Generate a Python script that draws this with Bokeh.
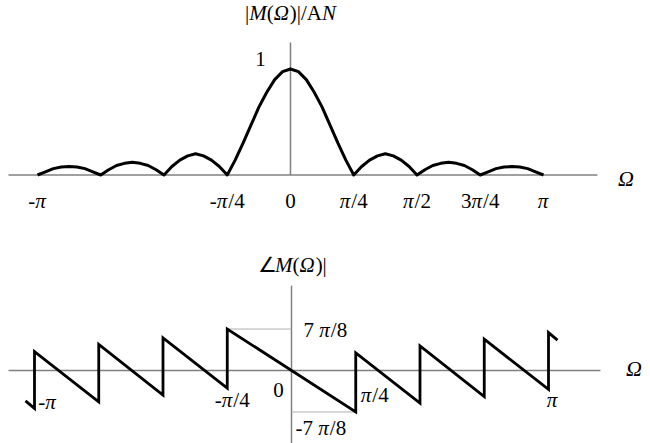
import numpy as np
from bokeh.plotting import figure
from bokeh.layouts import column
from bokeh.models import Range1d, ColumnDataSource
from bokeh.core.properties import value
from bokeh.embed import file_html
from bokeh.resources import INLINE

# ---------------- data (Ω and phase in units of π) ----------------
mag_omega = [k / 32 for k in range(-32, 33)]
mag_values = [0.0, 0.03, 0.06, 0.075, 0.08, 0.075, 0.06, 0.03,
              0.0, 0.05, 0.09, 0.11, 0.12, 0.11, 0.09, 0.05,
              0.0, 0.08, 0.14, 0.18, 0.20, 0.18, 0.14, 0.08,
              0.0, 0.14, 0.30, 0.47, 0.64, 0.78, 0.90, 0.975,
              1.0,
              0.975, 0.90, 0.78, 0.64, 0.47, 0.30, 0.14, 0.0,
              0.08, 0.14, 0.18, 0.20, 0.18, 0.14, 0.08, 0.0,
              0.05, 0.09, 0.11, 0.12, 0.11, 0.09, 0.05, 0.0,
              0.03, 0.06, 0.075, 0.08, 0.075, 0.06, 0.03, 0.0]

# phase ∠M(Ω): vertices of the sawtooth
phase_omega = [-1.035, -1.0, -1.0, -0.75, -0.75, -0.5, -0.5, -0.25, -0.25,
               0.25, 0.25, 0.5, 0.5, 0.75, 0.75, 1.0, 1.0, 1.035]
phase_values = [-0.64, -0.80, 0.40, -0.66, 0.55, -0.52, 0.69, -0.37, 0.875,
                -0.875, 0.37, -0.69, 0.52, -0.55, 0.66, -0.40, 0.80, 0.64]

phase_ref_level = 0.875   # 7π/8

mag_ticks = [-1.0, -0.25, 0.0, 0.25, 0.5, 0.75, 1.0]
mag_tick_labels = [[("-", False), ("π", True)],
                   [("-", False), ("π", True), ("/4", False)],
                   [("0", False)],
                   [("π", True), ("/4", False)],
                   [("π", True), ("/2", False)],
                   [("3", False), ("π", True), ("/4", False)],
                   [("π", True)]]

FONT = "Liberation Serif"
FS = 21
W = {'|': 0.2, 'M': 0.833, '(': 0.333, ')': 0.333, 'Ω': 0.77, '/': 0.278,
     'A': 0.722, 'N': 0.667, 'π': 0.55, '-': 0.333, ' ': 0.25, '∠': 0.8}


def rich(p, x, y, pieces, size=FS, align="center", dx=0.0, dy=0.0):
    widths = [sum(W.get(c, 0.5) for c in t) * size for t, _ in pieces]
    total = sum(widths)
    start = dx - (total / 2 if align == "center" else 0)
    offs = []
    for w in widths:
        offs.append(start)
        start += w
    n = len(pieces)
    src = ColumnDataSource(dict(x=[x] * n, y=[y] * n,
                                t=[t for t, _ in pieces],
                                xo=offs, yo=[dy] * n,
                                st=["italic" if it else "normal" for _, it in pieces]))
    p.text(x="x", y="y", text="t", x_offset="xo", y_offset="yo",
           text_font_style="st", source=src,
           text_font=value(FONT), text_font_size=f"{size}px",
           text_align="left", text_baseline="middle", text_color="black")


def base_fig(w, h, xr, yr):
    p = figure(width=w, height=h, x_range=Range1d(*xr), y_range=Range1d(*yr),
               output_backend="svg", toolbar_location=None,
               x_axis_location=None, y_axis_location=None,
               min_border=0, min_border_left=0, min_border_right=0,
               min_border_top=0, min_border_bottom=0)
    p.outline_line_color = None
    p.grid.visible = False
    p.background_fill_color = "white"
    p.border_fill_color = "white"
    return p


AXIS_COLOR = "#808080"

# ---------------- top: magnitude ----------------
top = base_fig(650, 223, (-1.1462, 1.4229), (-0.4575, 1.6462))
top.line([-1.1146, 1.213], [0, 0], line_color=AXIS_COLOR, line_width=1.5)
top.line([0, 0], [0, 1.25], line_color=AXIS_COLOR, line_width=1.5)
top.line(mag_omega, mag_values, line_color="black", line_width=3,
         line_join="round")

for t, lab in zip(mag_ticks, mag_tick_labels):
    rich(top, t, 0, lab, dy=26)
rich(top, 0, 1, [("1", False)], dx=-30, dy=-10)
rich(top, 0, 1.524, [("|", False), ("M", True), ("(", False), ("Ω", True),
                     (")|/A", False), ("N", True)])
rich(top, 1.328, 0, [("Ω", True)], size=22, dy=3)

# ---------------- bottom: phase ----------------
bot = base_fig(650, 220, (-1.1323, 1.3969), (-1.540, 3.101))
bot.line([-1.101, 1.202], [0, 0], line_color=AXIS_COLOR, line_width=1.5)
bot.line([0, 0], [-1.54, 1.79], line_color=AXIS_COLOR, line_width=1.5)
bot.line([-0.25, 0], [phase_ref_level, phase_ref_level], line_color="#b0b0b0", line_width=1)
bot.line([0, 0.25], [-phase_ref_level, -phase_ref_level], line_color="#b0b0b0", line_width=1)
bot.line(phase_omega, phase_values, line_color="black", line_width=2.8,
         line_join="miter")

rich(bot, 0, 2.215, [("∠", False), ("M", True), ("(", False), ("Ω", True), (")|", False)],
     dx=1)
rich(bot, 0, phase_ref_level, [("7 ", False), ("π", True), ("/8", False)], align="left", dx=12, dy=1)
rich(bot, 0, -phase_ref_level, [("-7 ", False), ("π", True), ("/8", False)], align="left", dx=4, dy=16)
rich(bot, 0, 0, [("0", False)], dx=-13, dy=20)
rich(bot, -1.0, 0, [("-", False), ("π", True)], dx=13, dy=32)
rich(bot, -0.25, 0, [("-", False), ("π", True), ("/4", False)], dx=5, dy=30)
rich(bot, 0.25, 0, [("π", True), ("/4", False)], dx=19, dy=25)
rich(bot, 1.0, 0, [("π", True)], dx=4, dy=30)
rich(bot, 1.335, 0, [("Ω", True)], size=22, dy=-2)

layout = column(top, bot, spacing=0)
open("out.html", "w").write(file_html(layout, INLINE))
